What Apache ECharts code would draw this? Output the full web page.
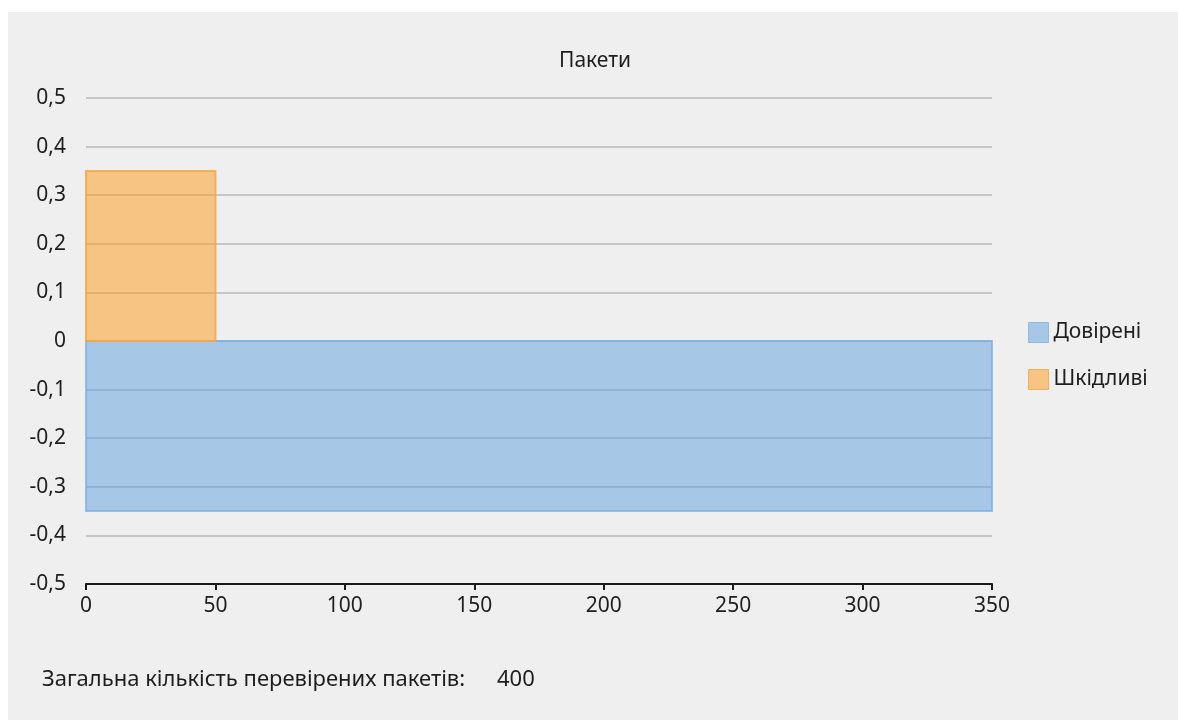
<!DOCTYPE html>
<html>
<head>
<meta charset="utf-8">
<script src="https://cdn.jsdelivr.net/npm/echarts@6/dist/echarts.min.js"></script>
<style>
  html, body { margin: 0; padding: 0; background: #ffffff; }
  #chart { position: absolute; left: 8px; top: 12px; width: 1170px; height: 708px; }
</style>
</head>
<body>
<div id="chart"></div>
<script>
// Packet areas: each series is a rectangle spanning [xFrom, xTo] x [yFrom, yTo]
const seriesNames = ['Довірені', 'Шкідливі'];
const xFrom = [0, 0];
const xTo = [350, 50];
const yFrom = [0, 0];
const yTo = [-0.35, 0.35];
const fillColors = ['rgba(94,162,222,0.5)', 'rgba(255,153,26,0.5)'];
const strokeColors = ['rgba(120,176,228,0.75)', 'rgba(246,166,70,0.85)'];

const chartTitle = 'Пакети';
const totalLabel = 'Загальна кількість перевірених пакетів:';
const totalChecked = 400;

const FONT = '"Noto Sans", "Open Sans", sans-serif';
const TEXT_COLOR = '#1e1e1e';
const chart = echarts.init(document.getElementById('chart'));

const series = seriesNames.map((name, i) => ({
  name: name,
  type: 'custom',
  data: [[xFrom[i], xTo[i], yFrom[i], yTo[i]]],
  encode: { x: [0, 1], y: [2, 3] },
  itemStyle: { color: fillColors[i], borderColor: strokeColors[i] },
  renderItem: function (params, api) {
    const p0 = api.coord([api.value(0), api.value(3)]);
    const p1 = api.coord([api.value(1), api.value(2)]);
    const x = Math.min(p0[0], p1[0]);
    const y = Math.min(p0[1], p1[1]);
    return {
      type: 'rect',
      shape: { x: x, y: y, width: Math.abs(p1[0] - p0[0]), height: Math.abs(p1[1] - p0[1]) },
      style: { fill: fillColors[i], stroke: strokeColors[i], lineWidth: 2 }
    };
  },
  z: 2 + i
}));

chart.setOption({
  backgroundColor: '#efefef',
  animation: false,
  textStyle: { fontFamily: FONT },
  title: {
    text: chartTitle,
    left: 546,
    top: 34,
    textStyle: { fontFamily: FONT, fontSize: 21, fontWeight: 'normal', color: TEXT_COLOR }
  },
  legend: {
    orient: 'vertical',
    left: 1015,
    top: 305,
    itemWidth: 20,
    itemHeight: 20,
    itemGap: 26,
    icon: 'rect',
    textStyle: { fontFamily: FONT, fontSize: 21, color: TEXT_COLOR, padding: [0, 0, 0, 0] },
    data: seriesNames.map((n, i) => ({
      name: n,
      itemStyle: { color: fillColors[i], borderColor: strokeColors[i], borderWidth: 1 }
    }))
  },
  grid: { left: 78, right: 186, top: 86, bottom: 136, containLabel: false },
  xAxis: {
    type: 'value',
    min: 0,
    max: 350,
    interval: 50,
    axisLine: { show: true, onZero: false, lineStyle: { color: '#1a1a1a', width: 2 } },
    axisTick: { show: true, length: 6, lineStyle: { color: '#1a1a1a', width: 2 } },
    axisLabel: { fontFamily: FONT, fontSize: 21, color: TEXT_COLOR, margin: 12 },
    splitLine: { show: false }
  },
  yAxis: {
    type: 'value',
    min: -0.5,
    max: 0.5,
    interval: 0.1,
    axisLine: { show: false },
    axisTick: { show: false },
    axisLabel: {
      fontFamily: FONT,
      fontSize: 21,
      color: TEXT_COLOR,
      margin: 20,
      formatter: v => {
        const r = Math.round(v * 10) / 10;
        return (r === 0 ? '0' : r.toFixed(1)).replace('.', ',');
      }
    },
    splitLine: { show: true, lineStyle: { color: '#b8b8b8', width: 1.5 } }
  },
  graphic: [
    {
      type: 'text',
      left: 34,
      top: 657,
      style: { text: totalLabel, fontFamily: FONT, fontSize: 22, fill: TEXT_COLOR }
    },
    {
      type: 'text',
      left: 489,
      top: 657,
      style: { text: String(totalChecked), fontFamily: FONT, fontSize: 22, fill: TEXT_COLOR }
    }
  ],
  series: series
});
</script>
</body>
</html>
